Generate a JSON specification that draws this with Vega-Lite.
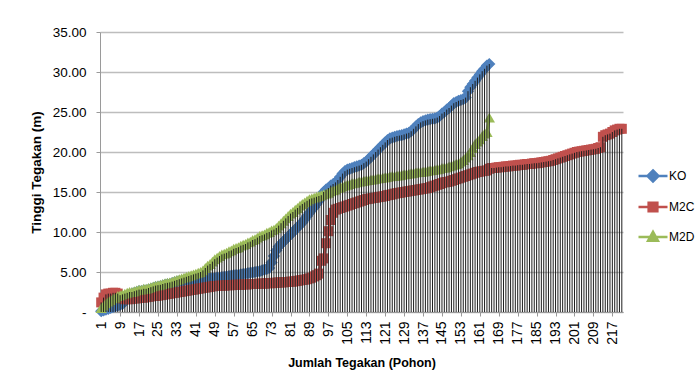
{
  "$schema": "https://vega.github.io/schema/vega-lite/v6.json",
  "width": 523,
  "height": 280,
  "autosize": {"type": "none"},
  "padding": {"left": 100, "top": 32, "right": 74, "bottom": 80},
  "background": "white",
  "config": {
    "view": {"stroke": null},
    "axis": {
      "labelColor": "#000000",
      "titleColor": "#000000",
      "domainColor": "#9a9a9a",
      "tickColor": "#9a9a9a",
      "gridColor": "#bdbdbd",
      "gridWidth": 1.4
    }
  },
  "data": {
    "values": [
      {"n":1,"KO":0.1,"M2C":1.2,"M2D":0.5},{"n":2,"KO":0.2,"M2C":1.8,"M2D":0.8},{"n":3,"KO":0.3,"M2C":2.2,"M2D":1.1},{"n":4,"KO":0.4,"M2C":2.3,"M2D":1.3},{"n":5,"KO":0.5,"M2C":2.3,"M2D":1.5},
      {"n":6,"KO":0.6,"M2C":2.4,"M2D":1.7},{"n":7,"KO":0.7,"M2C":2.4,"M2D":1.8},{"n":8,"KO":0.8,"M2C":2.3,"M2D":2.0},{"n":9,"KO":0.9,"M2C":1.9,"M2D":2.1},{"n":10,"KO":1.0,"M2C":1.7,"M2D":2.2},
      {"n":11,"KO":1.4,"M2C":1.6,"M2D":2.3},{"n":12,"KO":1.9,"M2C":1.6,"M2D":2.4},{"n":13,"KO":2.2,"M2C":1.6,"M2D":2.5},{"n":14,"KO":2.3,"M2C":1.65,"M2D":2.5},{"n":15,"KO":2.4,"M2C":1.7,"M2D":2.6},
      {"n":16,"KO":2.5,"M2C":1.7,"M2D":2.7},{"n":17,"KO":2.6,"M2C":1.75,"M2D":2.8},{"n":18,"KO":2.6,"M2C":1.8,"M2D":2.8},{"n":19,"KO":2.7,"M2C":1.8,"M2D":2.9},{"n":20,"KO":2.7,"M2C":1.85,"M2D":2.9},
      {"n":21,"KO":2.8,"M2C":1.9,"M2D":3.0},{"n":22,"KO":2.9,"M2C":1.95,"M2D":3.1},{"n":23,"KO":3.0,"M2C":2.0,"M2D":3.2},{"n":24,"KO":3.1,"M2C":2.0,"M2D":3.3},{"n":25,"KO":3.15,"M2C":2.05,"M2D":3.35},
      {"n":26,"KO":3.2,"M2C":2.1,"M2D":3.4},{"n":27,"KO":3.3,"M2C":2.15,"M2D":3.5},{"n":28,"KO":3.4,"M2C":2.2,"M2D":3.6},{"n":29,"KO":3.45,"M2C":2.25,"M2D":3.65},{"n":30,"KO":3.5,"M2C":2.3,"M2D":3.7},
      {"n":31,"KO":3.6,"M2C":2.35,"M2D":3.8},{"n":32,"KO":3.7,"M2C":2.4,"M2D":3.9},{"n":33,"KO":3.8,"M2C":2.45,"M2D":4.0},{"n":34,"KO":3.85,"M2C":2.5,"M2D":4.1},{"n":35,"KO":3.9,"M2C":2.55,"M2D":4.2},
      {"n":36,"KO":3.95,"M2C":2.6,"M2D":4.3},{"n":37,"KO":4.0,"M2C":2.65,"M2D":4.4},{"n":38,"KO":4.0,"M2C":2.7,"M2D":4.5},{"n":39,"KO":4.05,"M2C":2.75,"M2D":4.6},{"n":40,"KO":4.05,"M2C":2.8,"M2D":4.7},
      {"n":41,"KO":4.1,"M2C":2.85,"M2D":4.8},{"n":42,"KO":4.1,"M2C":2.9,"M2D":4.9},{"n":43,"KO":4.1,"M2C":2.95,"M2D":5.0},{"n":44,"KO":4.15,"M2C":3.0,"M2D":5.2},{"n":45,"KO":4.15,"M2C":3.05,"M2D":5.5},
      {"n":46,"KO":4.2,"M2C":3.1,"M2D":5.8},{"n":47,"KO":4.2,"M2C":3.15,"M2D":6.0},{"n":48,"KO":4.25,"M2C":3.2,"M2D":6.3},{"n":49,"KO":4.25,"M2C":3.25,"M2D":6.6},{"n":50,"KO":4.3,"M2C":3.25,"M2D":6.8},
      {"n":51,"KO":4.3,"M2C":3.3,"M2D":7.0},{"n":52,"KO":4.35,"M2C":3.3,"M2D":7.2},{"n":53,"KO":4.4,"M2C":3.3,"M2D":7.3},{"n":54,"KO":4.45,"M2C":3.35,"M2D":7.4},{"n":55,"KO":4.5,"M2C":3.35,"M2D":7.6},
      {"n":56,"KO":4.55,"M2C":3.35,"M2D":7.7},{"n":57,"KO":4.6,"M2C":3.4,"M2D":7.9},{"n":58,"KO":4.6,"M2C":3.4,"M2D":8.0},{"n":59,"KO":4.65,"M2C":3.4,"M2D":8.1},{"n":60,"KO":4.7,"M2C":3.4,"M2D":8.3},
      {"n":61,"KO":4.75,"M2C":3.45,"M2D":8.4},{"n":62,"KO":4.8,"M2C":3.45,"M2D":8.5},{"n":63,"KO":4.85,"M2C":3.45,"M2D":8.7},{"n":64,"KO":4.9,"M2C":3.5,"M2D":8.8},{"n":65,"KO":4.95,"M2C":3.5,"M2D":9.0},
      {"n":66,"KO":5.0,"M2C":3.5,"M2D":9.1},{"n":67,"KO":5.05,"M2C":3.5,"M2D":9.3},{"n":68,"KO":5.1,"M2C":3.55,"M2D":9.5},{"n":69,"KO":5.2,"M2C":3.55,"M2D":9.6},{"n":70,"KO":5.3,"M2C":3.55,"M2D":9.7},
      {"n":71,"KO":5.4,"M2C":3.6,"M2D":9.9},{"n":72,"KO":5.5,"M2C":3.6,"M2D":10.0},{"n":73,"KO":6.2,"M2C":3.6,"M2D":10.2},{"n":74,"KO":7.0,"M2C":3.65,"M2D":10.3},{"n":75,"KO":7.7,"M2C":3.65,"M2D":10.5},
      {"n":76,"KO":8.2,"M2C":3.7,"M2D":10.8},{"n":77,"KO":8.5,"M2C":3.7,"M2D":11.1},{"n":78,"KO":8.8,"M2C":3.7,"M2D":11.4},{"n":79,"KO":9.1,"M2C":3.75,"M2D":11.7},{"n":80,"KO":9.4,"M2C":3.75,"M2D":12.0},
      {"n":81,"KO":9.7,"M2C":3.8,"M2D":12.3},{"n":82,"KO":10.0,"M2C":3.8,"M2D":12.5},{"n":83,"KO":10.3,"M2C":3.85,"M2D":12.8},{"n":84,"KO":10.6,"M2C":3.9,"M2D":13.0},{"n":85,"KO":10.9,"M2C":3.95,"M2D":13.3},
      {"n":86,"KO":11.2,"M2C":4.0,"M2D":13.5},{"n":87,"KO":11.6,"M2C":4.05,"M2D":13.7},{"n":88,"KO":12.0,"M2C":4.1,"M2D":13.9},{"n":89,"KO":12.4,"M2C":4.2,"M2D":14.1},{"n":90,"KO":12.8,"M2C":4.3,"M2D":14.2},
      {"n":91,"KO":13.1,"M2C":4.45,"M2D":14.3},{"n":92,"KO":13.5,"M2C":4.6,"M2D":14.4},{"n":93,"KO":13.9,"M2C":4.8,"M2D":14.5},{"n":94,"KO":14.4,"M2C":6.4,"M2D":14.6},{"n":95,"KO":15.0,"M2C":6.7,"M2D":14.7},
      {"n":96,"KO":15.3,"M2C":8.6,"M2D":14.8},{"n":97,"KO":15.5,"M2C":10.1,"M2D":14.9},{"n":98,"KO":15.8,"M2C":11.5,"M2D":15.1},{"n":99,"KO":16.0,"M2C":12.4,"M2D":15.2},{"n":100,"KO":16.2,"M2C":12.8,"M2D":15.3},
      {"n":101,"KO":16.5,"M2C":12.9,"M2D":15.5},{"n":102,"KO":16.9,"M2C":13.0,"M2D":15.6},{"n":103,"KO":17.3,"M2C":13.1,"M2D":15.7},{"n":104,"KO":17.6,"M2C":13.2,"M2D":15.8},{"n":105,"KO":17.8,"M2C":13.3,"M2D":15.9},
      {"n":106,"KO":17.9,"M2C":13.4,"M2D":16.0},{"n":107,"KO":18.0,"M2C":13.5,"M2D":16.1},{"n":108,"KO":18.1,"M2C":13.6,"M2D":16.15},{"n":109,"KO":18.2,"M2C":13.7,"M2D":16.2},{"n":110,"KO":18.3,"M2C":13.8,"M2D":16.3},
      {"n":111,"KO":18.4,"M2C":13.9,"M2D":16.35},{"n":112,"KO":18.6,"M2C":14.0,"M2D":16.4},{"n":113,"KO":18.8,"M2C":14.1,"M2D":16.45},{"n":114,"KO":19.1,"M2C":14.15,"M2D":16.5},{"n":115,"KO":19.4,"M2C":14.2,"M2D":16.55},
      {"n":116,"KO":19.7,"M2C":14.25,"M2D":16.6},{"n":117,"KO":20.0,"M2C":14.3,"M2D":16.65},{"n":118,"KO":20.3,"M2C":14.35,"M2D":16.7},{"n":119,"KO":20.6,"M2C":14.4,"M2D":16.75},{"n":120,"KO":20.9,"M2C":14.45,"M2D":16.8},
      {"n":121,"KO":21.2,"M2C":14.5,"M2D":16.85},{"n":122,"KO":21.5,"M2C":14.6,"M2D":16.9},{"n":123,"KO":21.7,"M2C":14.65,"M2D":16.95},{"n":124,"KO":21.8,"M2C":14.7,"M2D":17.0},{"n":125,"KO":21.9,"M2C":14.8,"M2D":17.0},
      {"n":126,"KO":22.0,"M2C":14.85,"M2D":17.05},{"n":127,"KO":22.05,"M2C":14.9,"M2D":17.1},{"n":128,"KO":22.1,"M2C":14.95,"M2D":17.15},{"n":129,"KO":22.2,"M2C":15.0,"M2D":17.2},{"n":130,"KO":22.3,"M2C":15.05,"M2D":17.25},
      {"n":131,"KO":22.4,"M2C":15.1,"M2D":17.3},{"n":132,"KO":22.6,"M2C":15.15,"M2D":17.35},{"n":133,"KO":22.9,"M2C":15.2,"M2D":17.4},{"n":134,"KO":23.2,"M2C":15.25,"M2D":17.45},{"n":135,"KO":23.5,"M2C":15.3,"M2D":17.5},
      {"n":136,"KO":23.7,"M2C":15.35,"M2D":17.5},{"n":137,"KO":23.85,"M2C":15.4,"M2D":17.55},{"n":138,"KO":23.95,"M2C":15.45,"M2D":17.6},{"n":139,"KO":24.05,"M2C":15.5,"M2D":17.65},{"n":140,"KO":24.1,"M2C":15.6,"M2D":17.7},
      {"n":141,"KO":24.15,"M2C":15.7,"M2D":17.75},{"n":142,"KO":24.2,"M2C":15.8,"M2D":17.8},{"n":143,"KO":24.3,"M2C":15.9,"M2D":17.85},{"n":144,"KO":24.5,"M2C":16.0,"M2D":17.9},{"n":145,"KO":24.8,"M2C":16.1,"M2D":18.0},
      {"n":146,"KO":25.0,"M2C":16.2,"M2D":18.05},{"n":147,"KO":25.3,"M2C":16.25,"M2D":18.1},{"n":148,"KO":25.5,"M2C":16.3,"M2D":18.2},{"n":149,"KO":25.8,"M2C":16.4,"M2D":18.3},{"n":150,"KO":26.1,"M2C":16.5,"M2D":18.4},
      {"n":151,"KO":26.25,"M2C":16.6,"M2D":18.5},{"n":152,"KO":26.4,"M2C":16.7,"M2D":18.6},{"n":153,"KO":26.5,"M2C":16.8,"M2D":18.8},{"n":154,"KO":26.6,"M2C":16.9,"M2D":19.0},{"n":155,"KO":26.8,"M2C":17.0,"M2D":19.3},
      {"n":156,"KO":27.6,"M2C":17.1,"M2D":19.6},{"n":157,"KO":28.1,"M2C":17.2,"M2D":20.0},{"n":158,"KO":28.5,"M2C":17.3,"M2D":20.5},{"n":159,"KO":28.9,"M2C":17.4,"M2D":21.0},{"n":160,"KO":29.3,"M2C":17.5,"M2D":21.3},
      {"n":161,"KO":29.7,"M2C":17.55,"M2D":21.6},{"n":162,"KO":30.1,"M2C":17.6,"M2D":22.0},{"n":163,"KO":30.4,"M2C":17.65,"M2D":22.3},{"n":164,"KO":30.8,"M2C":17.7,"M2D":22.5},{"n":165,"KO":31.0,"M2C":17.9,"M2D":24.3},
      {"n":166,"M2C":18.0},{"n":167,"M2C":18.0},{"n":168,"M2C":18.05},{"n":169,"M2C":18.1},{"n":170,"M2C":18.1},
      {"n":171,"M2C":18.15},{"n":172,"M2C":18.2},{"n":173,"M2C":18.2},{"n":174,"M2C":18.25},{"n":175,"M2C":18.3},
      {"n":176,"M2C":18.3},{"n":177,"M2C":18.35},{"n":178,"M2C":18.4},{"n":179,"M2C":18.4},{"n":180,"M2C":18.45},
      {"n":181,"M2C":18.5},{"n":182,"M2C":18.5},{"n":183,"M2C":18.55},{"n":184,"M2C":18.6},{"n":185,"M2C":18.6},
      {"n":186,"M2C":18.65},{"n":187,"M2C":18.7},{"n":188,"M2C":18.75},{"n":189,"M2C":18.8},{"n":190,"M2C":18.85},
      {"n":191,"M2C":18.9},{"n":192,"M2C":19.0},{"n":193,"M2C":19.1},{"n":194,"M2C":19.2},{"n":195,"M2C":19.3},
      {"n":196,"M2C":19.4},{"n":197,"M2C":19.5},{"n":198,"M2C":19.6},{"n":199,"M2C":19.7},{"n":200,"M2C":19.8},
      {"n":201,"M2C":19.9},{"n":202,"M2C":20.0},{"n":203,"M2C":20.05},{"n":204,"M2C":20.1},{"n":205,"M2C":20.15},
      {"n":206,"M2C":20.2},{"n":207,"M2C":20.25},{"n":208,"M2C":20.3},{"n":209,"M2C":20.35},{"n":210,"M2C":20.4},
      {"n":211,"M2C":20.5},{"n":212,"M2C":20.6},{"n":213,"M2C":21.9},{"n":214,"M2C":22.1},{"n":215,"M2C":22.2},
      {"n":216,"M2C":22.3},{"n":217,"M2C":22.5},{"n":218,"M2C":22.7},{"n":219,"M2C":22.8},{"n":220,"M2C":22.9},
      {"n":221,"M2C":22.9}
    ]
  },
  "transform": [
    {"fold": ["KO", "M2C", "M2D"], "as": ["seri", "tinggi"]},
    {"filter": "isValid(datum.tinggi)"}
  ],
  "encoding": {
    "x": {
      "field": "n",
      "type": "quantitative",
      "title": "Jumlah Tegakan (Pohon)",
      "scale": {"domain": [0.5, 221.5], "nice": false, "zero": false},
      "axis": {
        "values": [1, 9, 17, 25, 33, 41, 49, 57, 65, 73, 81, 89, 97, 105, 113, 121, 129, 137, 145, 153, 161, 169, 177, 185, 193, 201, 209, 217],
        "labelAngle": -90,
        "labelFont": "Liberation Sans",
        "labelFontSize": 14,
        "labelPadding": 5,
        "tickSize": 4,
        "grid": false,
        "labelOverlap": false,
        "titleFont": "Liberation Sans",
        "titleFontSize": 12.5,
        "titleFontWeight": "bold",
        "titlePadding": 12
      }
    },
    "y": {
      "field": "tinggi",
      "type": "quantitative",
      "title": "Tinggi Tegakan (m)",
      "scale": {"domain": [0, 35], "nice": false},
      "axis": {
        "values": [0, 5, 10, 15, 20, 25, 30, 35],
        "labelExpr": "datum.value === 0 ? '-' : format(datum.value, '.2f')",
        "labelFont": "Liberation Sans",
        "labelFontSize": 13.5,
        "labelPadding": 10,
        "tickSize": 4,
        "titleFont": "Liberation Sans",
        "titleFontSize": 13.5,
        "titleFontWeight": "bold",
        "titlePadding": 9
      }
    },
    "color": {
      "field": "seri",
      "type": "nominal",
      "scale": {"domain": ["KO", "M2C", "M2D"], "range": ["#4F81BD", "#C0504D", "#9BBB59"]},
      "legend": {
        "title": null,
        "orient": "none",
        "legendX": 537,
        "legendY": 128,
        "symbolSize": 841,
        "rowPadding": 4,
        "labelOffset": 0,
        "labelFont": "Liberation Sans",
        "labelFontSize": 12,
        "labelColor": "#000000",
        "labelLimit": 40,
        "encode": {
          "symbols": {
            "update": {
              "shape": {"signal": "datum.value === 'KO' ? 'M-1,0L1,0M0,-0.38L0.38,0L0,0.38L-0.38,0Z' : datum.value === 'M2C' ? 'M-1,0L1,0M-0.3,-0.3L0.3,-0.3L0.3,0.3L-0.3,0.3Z' : 'M-1,0L1,0M0,-0.36L0.34,0.26L-0.34,0.26Z'"},
              "fill": {"signal": "scale('color', datum.value)"},
              "stroke": {"signal": "scale('color', datum.value)"},
              "strokeWidth": {"value": 2.5},
              "opacity": {"value": 1},
              "fillOpacity": {"value": 1}
            }
          }
        }
      }
    }
  },
  "layer": [
    {"transform": [{"filter": "datum.seri === 'KO'"}], "mark": {"type": "line", "strokeWidth": 3}},
    {"transform": [{"filter": "datum.seri === 'KO'"}], "mark": {"type": "point", "shape": "diamond", "filled": true, "size": 150, "opacity": 1}},
    {"transform": [{"filter": "datum.seri === 'M2C'"}], "mark": {"type": "line", "strokeWidth": 3}},
    {"transform": [{"filter": "datum.seri === 'M2C'"}], "mark": {"type": "point", "shape": "square", "filled": true, "size": 100, "opacity": 1}},
    {"transform": [{"filter": "datum.seri === 'M2D'"}], "mark": {"type": "line", "strokeWidth": 3}},
    {"transform": [{"filter": "datum.seri === 'M2D'"}], "mark": {"type": "point", "shape": "triangle-up", "filled": true, "size": 130, "opacity": 1}},
    {
      "transform": [{"aggregate": [{"op": "max", "field": "tinggi", "as": "puncak"}], "groupby": ["n"]}],
      "mark": {"type": "rule", "strokeWidth": 1},
      "encoding": {
        "y": {"field": "puncak", "type": "quantitative"},
        "y2": {"datum": 0},
        "color": {"value": "#1e1e1e"}
      }
    }
  ]
}
